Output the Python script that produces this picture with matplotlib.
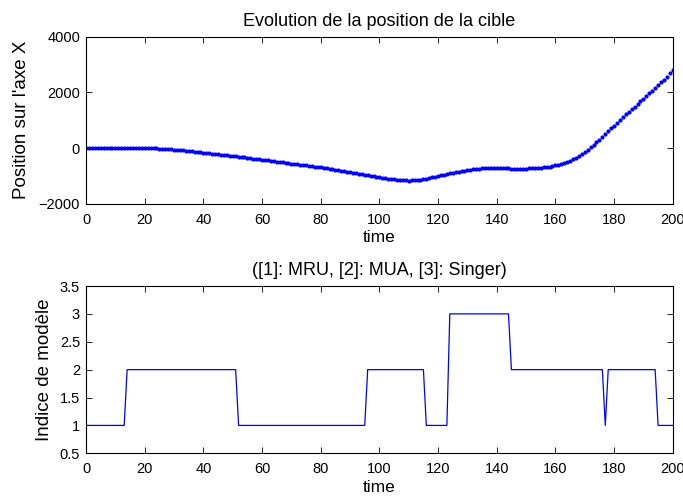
import numpy as np
import matplotlib
matplotlib.use("Agg")
import matplotlib.pyplot as plt
from matplotlib.ticker import FormatStrFormatter

plt.rcParams['font.family'] = ['Liberation Sans', 'DejaVu Sans']

# position along X axis, one value per time step (t = 0..200)
position = [
    0, 0, 0, 0, 0, 0, 0, 0, 0, 0,
    0, 0, 0, 0, 0, -1, -1, -2, -2, -3,
    -3, -5, -7, -10, -14, -19, -25, -32, -40, -49,
    -58, -67, -76, -85, -95, -106, -118, -130, -142, -155,
    -168, -181, -193, -205, -216, -228, -240, -252, -264, -276,
    -288, -300, -313, -326, -340, -353, -366, -380, -393, -406,
    -420, -433, -446, -460, -473, -486, -500, -514, -528, -542,
    -556, -570, -584, -598, -612, -626, -640, -654, -668, -682,
    -696, -711, -726, -742, -759, -776, -794, -812, -830, -849,
    -868, -887, -906, -925, -944, -963, -982, -1000, -1018, -1035,
    -1052, -1068, -1084, -1099, -1113, -1126, -1138, -1149, -1158, -1164,
    -1167, -1166, -1160, -1150, -1136, -1118, -1097, -1074, -1050, -1025,
    -1000, -976, -952, -929, -906, -884, -865, -846, -827, -809,
    -791, -774, -759, -746, -736, -729, -724, -721, -720, -721,
    -723, -725, -728, -731, -734, -737, -739, -740, -741, -740,
    -738, -735, -730, -724, -716, -707, -696, -682, -666, -647,
    -625, -600, -571, -538, -500, -456, -406, -350, -288, -220,
    -145, -65, 20, 110, 205, 305, 405, 505, 605, 705,
    805, 905, 1005, 1105, 1205, 1300, 1395, 1490, 1583, 1676,
    1770, 1865, 1960, 2055, 2152, 2250, 2355, 2460, 2568, 2680,
    2800,
]

# model index per time step, given as runs
model_levels = [1, 2, 1, 2, 1, 3, 2, 1, 2, 1]
run_lengths = [14, 38, 44, 20, 8, 21, 32, 1, 17, 6]

time = np.arange(len(position))
model = np.repeat(model_levels, run_lengths)

fig = plt.figure(figsize=(6.83, 5.0), dpi=100)

ax1 = fig.add_axes([0.126, 0.5926, 0.859, 0.334])
ax1.plot(time, position, '.', color='#0000ff', markersize=4)
ax1.set_xlim(0, 200)
ax1.set_ylim(-2000, 4000)
ax1.set_xticks(range(0, 201, 20))
ax1.set_yticks([-2000, 0, 2000, 4000])
ax1.set_title("Evolution de la position de la cible", fontsize=13, pad=8)
ax1.set_xlabel("time", fontsize=12.5, labelpad=2.5)
ax1.set_ylabel("Position sur l'axe X", fontsize=13.5, labelpad=6.5)

ax2 = fig.add_axes([0.126, 0.0934, 0.859, 0.3346])
ax2.plot(time, model, '-', color='#0000ff', linewidth=0.9)
ax2.set_xlim(0, 200)
ax2.set_ylim(0.5, 3.5)
ax2.set_xticks(range(0, 201, 20))
ax2.set_yticks(np.arange(0.5, 3.51, 0.5))
ax2.yaxis.set_major_formatter(FormatStrFormatter('%g'))
ax2.set_title("([1]: MRU, [2]: MUA, [3]: Singer)", fontsize=13, pad=8)
ax2.set_xlabel("time", fontsize=12.5, labelpad=2.5)
ax2.set_ylabel("Indice de modèle", fontsize=13.5, labelpad=4.5)

for ax in (ax1, ax2):
    ax.tick_params(direction='in', top=True, right=True, length=4,
                   width=0.6, labelsize=10.5)
    ax.tick_params(axis='x', pad=6.5)
    ax.tick_params(axis='y', pad=4.3)
    for s in ax.spines.values():
        s.set_linewidth(0.8)

fig.savefig("out.png", dpi=100)
